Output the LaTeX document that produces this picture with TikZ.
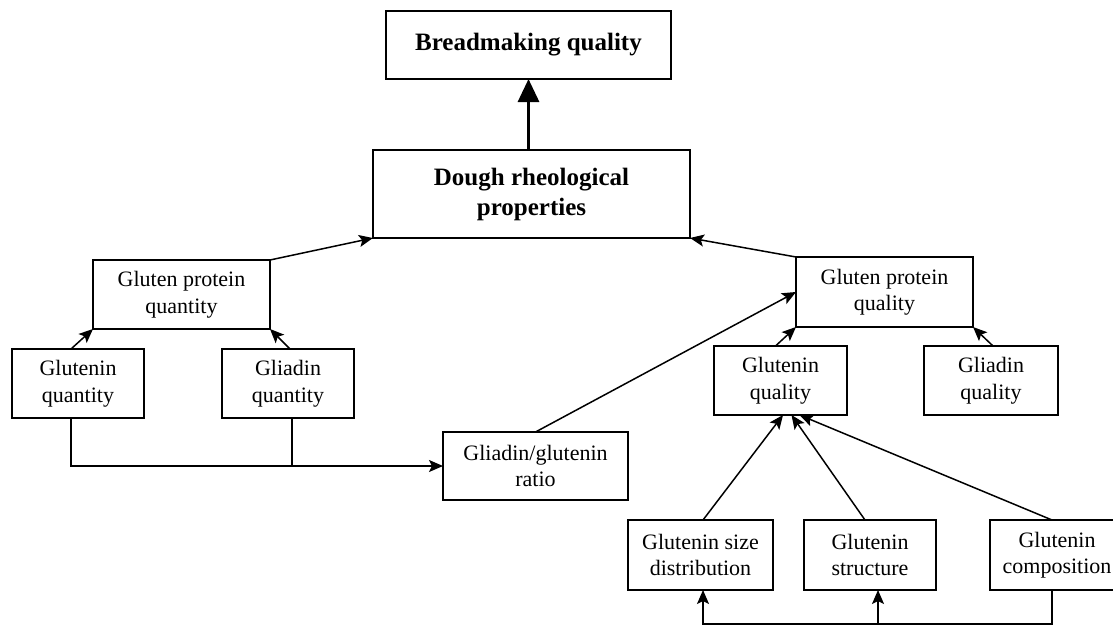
\documentclass[tikz,border=0pt]{standalone}
\usepackage{fontspec}
\setmainfont{Liberation Serif}
\usetikzlibrary{arrows.meta,calc}
\begin{document}
\begin{tikzpicture}[x=1pt,y=-1pt,
  every node/.style={inner sep=0pt,outer sep=0pt},
  box/.style={draw=black,line width=1.4pt,align=center,
    font=\fontsize{22}{26.5}\selectfont},
  bigbox/.style={draw=black,line width=2pt,align=center,
    font=\fontsize{25}{30}\selectfont\bfseries},
  conn/.style={line width=1.5pt,-{Stealth[length=14pt,width=12pt,inset=3pt]}},
  plain/.style={line width=1.5pt},
  thick arrow/.style={line width=3pt,-{Triangle[length=23pt,width=21pt]}}
]
\useasboundingbox (0,0) rectangle (1113,626);

\node[bigbox,minimum width=285pt,minimum height=68pt] (bread) at (528.5,45) {Breadmaking quality};
\node[bigbox,minimum width=317pt,minimum height=88pt] (dough) at (531.5,194) {Dough rheological\\properties};

\node[box,minimum width=177pt,minimum height=69pt] (gpqt) at (181.5,294.5) {Gluten protein\\quantity};
\node[box,minimum width=132pt,minimum height=69pt] (gtq) at (78,383.5) {Glutenin\\quantity};
\node[box,minimum width=132pt,minimum height=69pt] (glq) at (288,383.5) {Gliadin\\quantity};
\node[box,minimum width=185pt,minimum height=68pt] (ratio) at (535.5,466) {Gliadin/glutenin\\ratio};

\node[box,minimum width=177pt,minimum height=70pt] (gpql) at (884.5,292) {Gluten protein\\quality};
\node[box,minimum width=133pt,minimum height=69pt] (gtql) at (780.5,380.5) {Glutenin\\quality};
\node[box,minimum width=134pt,minimum height=69pt] (glql) at (991,380.5) {Gliadin\\quality};

\node[box,minimum width=145pt,minimum height=70pt] (gsd) at (700.5,555) {Glutenin size\\distribution};
\node[box,minimum width=132pt,minimum height=70pt] (gst) at (870,555) {Glutenin\\structure};
\node[box,minimum width=134pt,minimum height=70pt] (gco) at (1057,555) {Glutenin\\composition};

% helper coordinates on box edges
\coordinate (gtqtop) at ($(gtq.north)+(-7,0)$);
\coordinate (gtqbot) at ($(gtq.south)+(-7,0)$);
\coordinate (glqtop) at ($(glq.north)+(2,0)$);
\coordinate (glqbot) at ($(glq.south)+(4,0)$);
\coordinate (gtqltop) at ($(gtql.north)+(-5,0)$);
\coordinate (glqltop) at ($(glql.north)+(2,0)$);
\coordinate (gsdtop) at ($(gsd.north)+(2.5,0)$);
\coordinate (gsdbot) at ($(gsd.south)+(2.5,0)$);
\coordinate (gsttop) at ($(gst.north)+(-5,0)$);
\coordinate (gstbot) at ($(gst.south)+(8,0)$);
\coordinate (gcotop) at ($(gco.north)+(-5,0)$);
\coordinate (gcobot) at ($(gco.south)+(-5,0)$);
\coordinate (in1) at ($(gtql.south)+(2.5,0)$);
\coordinate (in2) at ($(gtql.south)+(11,0)$);
\coordinate (in3) at ($(gtql.south)+(19,0)$);
\coordinate (bot) at (1052,624);

% main arrows
\draw[thick arrow] (dough.north -| bread.south) -- (bread.south);
\draw[conn] (gpqt.north east) -- (dough.south west);
\draw[conn] (gpql.north west) -- (dough.south east);

% left side
\draw[conn] (gtqtop) -- (gpqt.south west);
\draw[conn] (glqtop) -- (gpqt.south east);
\draw[plain] (glqbot) -- (glqbot |- ratio.west);
\draw[conn] (gtqbot) |- (ratio.west);
\draw[conn] (ratio.north) -- (gpql.west);

% right side
\draw[conn] (gtqltop) -- (gpql.south west);
\draw[conn] (glqltop) -- (gpql.south east);
\draw[conn] (gsdtop) -- (in1);
\draw[conn] (gsttop) -- (in2);
\draw[conn] (gcotop) -- (in3);

% bottom feedback line
\draw[conn] (gcobot) -- (bot) -| (gsdbot);
\draw[conn] (gstbot |- bot) -- (gstbot);
\end{tikzpicture}
\end{document}
